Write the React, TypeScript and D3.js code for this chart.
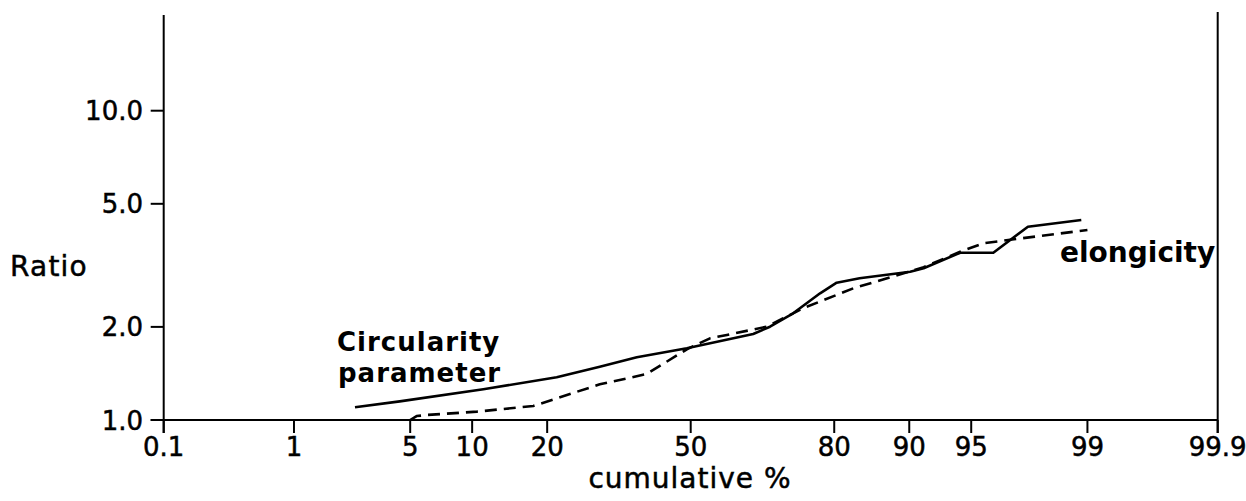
import React from "react";
import * as d3 from "d3";

const xTickValues = [0.1, 1, 5, 10, 20, 50, 80, 90, 95, 99, 99.9];
const xTickLabels = ["0.1", "1", "5", "10", "20", "50", "80", "90", "95", "99", "99.9"];
const yTickValues = [1, 2, 5, 10];
const yTickLabels = ["1.0", "2.0", "5.0", "10.0"];

const circularityPct = [2.45, 4.4, 11.2, 21.6, 29.7, 37.6, 49.1, 64.3, 67.9, 72.6, 77.6, 80.4, 83.9, 90.1, 91.4, 94.3, 96.2, 97.6, 98.9];
const circularityRatio = [1.099, 1.149, 1.257, 1.374, 1.487, 1.595, 1.705, 1.897, 2.003, 2.213, 2.568, 2.779, 2.872, 3.017, 3.094, 3.475, 3.475, 4.217, 4.433];

const elongicityPct = [5.0, 5.4, 6.1, 10.5, 17.8, 21.6, 29.7, 39.8, 49.1, 54.5, 58.4, 67.2, 72.6, 74.5, 83.0, 91.4, 94.3, 95.7, 97.1, 99.0];
const elongicityRatio = [1.0, 1.03, 1.038, 1.064, 1.11, 1.175, 1.304, 1.408, 1.693, 1.837, 1.883, 2.003, 2.213, 2.297, 2.666, 3.117, 3.501, 3.727, 3.839, 4.115];

function probit(p: number): number {
  const a = [-3.969683028665376e1, 2.209460984245205e2, -2.759285104469687e2, 1.38357751867269e2, -3.066479806614716e1, 2.506628277459239];
  const b = [-5.447609879822406e1, 1.615858368580409e2, -1.556989798598866e2, 6.680131188771972e1, -1.328068155288572e1];
  const c = [-7.784894002430293e-3, -3.223964580411365e-1, -2.400758277161838, -2.549732539343734, 4.374664141464968, 2.938163982698783];
  const d = [7.784695709041462e-3, 3.224671290700398e-1, 2.445134137142996, 3.754408661907416];
  const pl = 0.02425;
  const ph = 1 - pl;
  if (p < pl) {
    const q = Math.sqrt(-2 * Math.log(p));
    return (((((c[0] * q + c[1]) * q + c[2]) * q + c[3]) * q + c[4]) * q + c[5]) / ((((d[0] * q + d[1]) * q + d[2]) * q + d[3]) * q + 1);
  }
  if (p <= ph) {
    const q = p - 0.5;
    const r = q * q;
    return ((((((a[0] * r + a[1]) * r + a[2]) * r + a[3]) * r + a[4]) * r + a[5]) * q) / (((((b[0] * r + b[1]) * r + b[2]) * r + b[3]) * r + b[4]) * r + 1);
  }
  const q = Math.sqrt(-2 * Math.log(1 - p));
  return -(((((c[0] * q + c[1]) * q + c[2]) * q + c[3]) * q + c[4]) * q + c[5]) / ((((d[0] * q + d[1]) * q + d[2]) * q + d[3]) * q + 1);
}

const W = 1246;
const H = 501;
const LEFT = 163.7;
const RIGHT = 1217.7;
const BOTTOM = 420;
const TOP_LEFT = 15;
const TOP_RIGHT = 12;
const TICK = 13;

const zScale = d3.scaleLinear().domain([probit(0.001), probit(0.999)]).range([LEFT, RIGHT]);
const x = (pct: number) => zScale(probit(pct / 100));
const y = d3.scaleLog().domain([1, 10]).range([BOTTOM, 110.7]);

const line = d3
  .line<[number, number]>()
  .x((d) => x(d[0]))
  .y((d) => y(d[1]));

const circ: [number, number][] = circularityPct.map((p, i) => [p, circularityRatio[i]]);
const elong: [number, number][] = elongicityPct.map((p, i) => [p, elongicityRatio[i]]);

const regular = "'DejaVu Sans', sans-serif";

export default function App() {
  return (
    <svg
      width={W}
      height={H}
      style={{ position: "absolute", left: 0, top: 0, background: "#fff" }}
      xmlns="http://www.w3.org/2000/svg"
    >
      <rect x={0} y={0} width={W} height={H} fill="#fff" />
      {/* axes */}
      <g stroke="#000" strokeWidth={2} fill="none">
        <line x1={LEFT} y1={TOP_LEFT} x2={LEFT} y2={BOTTOM + TICK} />
        <line x1={RIGHT} y1={TOP_RIGHT} x2={RIGHT} y2={BOTTOM + TICK} />
        <line x1={LEFT - TICK} y1={BOTTOM} x2={RIGHT} y2={BOTTOM} />
        {xTickValues.map((v) => (
          <line key={"xt" + v} x1={x(v)} x2={x(v)} y1={BOTTOM} y2={BOTTOM + TICK} />
        ))}
        {yTickValues.map((v) => (
          <line key={"yt" + v} x1={LEFT - TICK} x2={LEFT} y1={y(v)} y2={y(v)} />
        ))}
      </g>
      {/* tick labels */}
      <g fontFamily={regular} fontSize={26} fill="#000" stroke="#000" strokeWidth={0.5}>
        {xTickValues.map((v, i) => (
          <text key={"xl" + v} x={x(v)} y={455.5} textAnchor="middle">
            {xTickLabels[i]}
          </text>
        ))}
        {yTickValues.map((v, i) => (
          <text key={"yl" + v} x={143} y={y(v) + 9.5} textAnchor="end">
            {yTickLabels[i]}
          </text>
        ))}
      </g>
      {/* axis titles */}
      <g fontFamily={regular} fontSize={28} fill="#000" stroke="#000" strokeWidth={0.5}>
        <text x={10} y={276} letterSpacing={1.2}>
          Ratio
        </text>
        <text x={690} y={488} letterSpacing={1} textAnchor="middle">
          cumulative %
        </text>
      </g>
      {/* series */}
      <path d={line(circ) || ""} fill="none" stroke="#000" strokeWidth={2.6} strokeLinejoin="round" />
      <path d={line(elong) || ""} fill="none" stroke="#000" strokeWidth={2.6} strokeDasharray="12,7" strokeLinejoin="round" />
      {/* series labels */}
      <g fontFamily={regular} fontWeight="bold" fill="#000">
        <text x={337} y={351} fontSize={26} letterSpacing={1}>
          <tspan x={337} y={351}>Circularity</tspan>
          <tspan x={338} y={382}>parameter</tspan>
        </text>
        <text x={1060} y={262} fontSize={28}>elongicity</text>
      </g>
    </svg>
  );
}
